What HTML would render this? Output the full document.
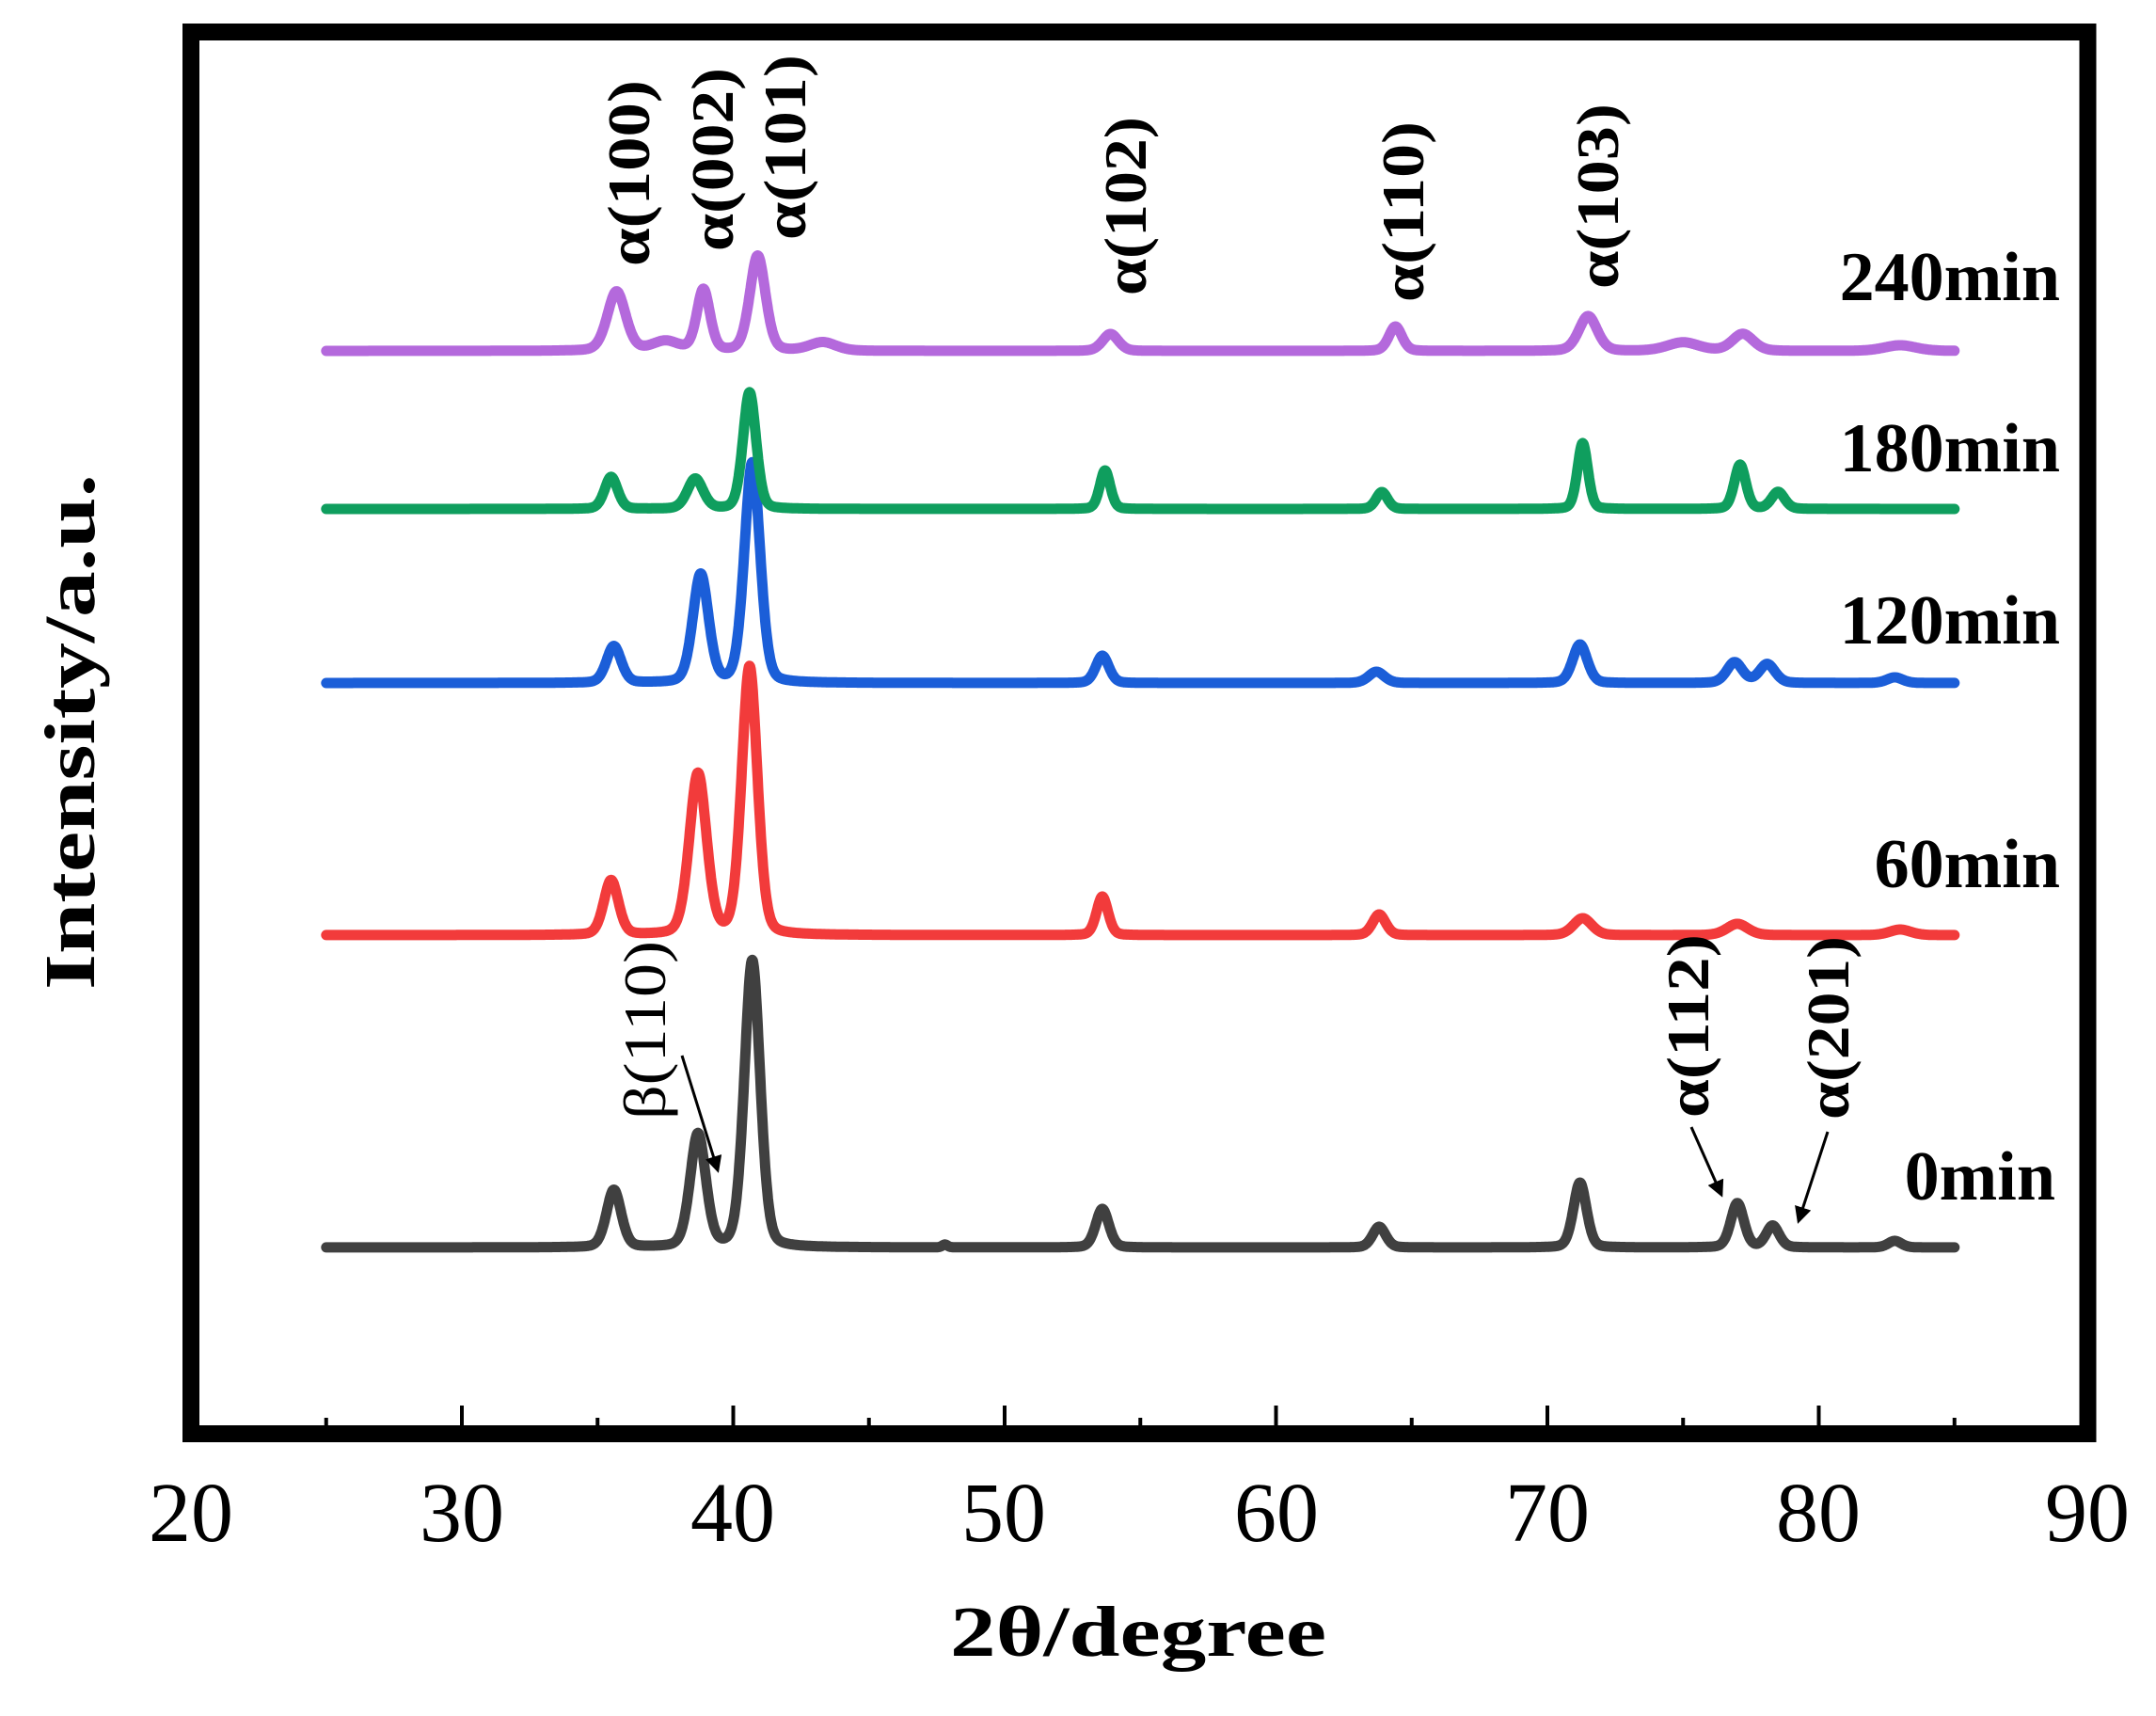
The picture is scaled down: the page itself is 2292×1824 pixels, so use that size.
<!DOCTYPE html>
<html><head><meta charset="utf-8"><style>
html,body{margin:0;padding:0;background:#fff}
svg{display:block}
text{font-family:"Liberation Serif",serif;fill:#000}
.b{font-weight:bold}
</style></head><body>
<svg id="s" width="2292" height="1824" viewBox="0 0 2292 1824" xmlns="http://www.w3.org/2000/svg">
<rect width="2292" height="1824" fill="#fff"/>
<defs><marker id="ah" markerWidth="6" markerHeight="6" refX="5" refY="3" orient="auto" markerUnits="strokeWidth"><path d="M0,0 L6,3 L0,6 z" fill="#000"/></marker></defs>
<g id="curves" fill="none" stroke-width="11" stroke-linejoin="round" stroke-linecap="round"></g>
<rect x="203" y="34" width="2016.5" height="1490" fill="none" stroke="#000" stroke-width="18"/>
<g id="ticks" stroke="#000" stroke-width="4"></g>
<g font-size="90" text-anchor="middle">
<text x="203" y="1638">20</text><text x="491" y="1638">30</text><text x="779" y="1638">40</text><text x="1067" y="1638">50</text><text x="1357" y="1638">60</text><text x="1645" y="1638">70</text><text x="1933" y="1638">80</text><text x="2219" y="1638">90</text>
</g>
<text class="b" x="1210" y="1760" font-size="76" text-anchor="middle" textLength="400" lengthAdjust="spacingAndGlyphs">2θ/degree</text>
<text class="b" transform="translate(100,778) rotate(-90)" font-size="76" text-anchor="middle" textLength="548" lengthAdjust="spacingAndGlyphs">Intensity/a.u.</text>
<g class="b" font-size="74" text-anchor="end">
<text x="2190" y="319">240min</text><text x="2190" y="501">180min</text><text x="2190" y="684">120min</text><text x="2190" y="943">60min</text><text x="2185" y="1275">0min</text>
</g>
<g class="b" font-size="64">
<text transform="translate(690,283) rotate(-90)" textLength="198" lengthAdjust="spacingAndGlyphs">α(100)</text>
<text transform="translate(779,267) rotate(-90)" textLength="195" lengthAdjust="spacingAndGlyphs">α(002)</text>
<text transform="translate(856,255) rotate(-90)" textLength="197" lengthAdjust="spacingAndGlyphs">α(101)</text>
<text transform="translate(1218,314) rotate(-90)" textLength="190" lengthAdjust="spacingAndGlyphs">α(102)</text>
<text transform="translate(1513,321) rotate(-90)" textLength="192" lengthAdjust="spacingAndGlyphs">α(110)</text>
<text transform="translate(1720,307) rotate(-90)" textLength="197" lengthAdjust="spacingAndGlyphs">α(103)</text>
<text transform="translate(1816,1188) rotate(-90)" textLength="195" lengthAdjust="spacingAndGlyphs">α(112)</text>
<text transform="translate(1965,1190) rotate(-90)" textLength="195" lengthAdjust="spacingAndGlyphs">α(201)</text>
</g>
<text transform="translate(707,1190) rotate(-90)" font-size="64" textLength="190" lengthAdjust="spacingAndGlyphs">β(110)</text>
<g stroke="#000" stroke-width="3" marker-end="url(#ah)">
<line x1="725" y1="1122" x2="763" y2="1244"/>
<line x1="1798" y1="1198" x2="1830" y2="1270"/>
<line x1="1943" y1="1203" x2="1912" y2="1298"/>
</g>
</svg>
<script>
var X=function(x){return 202.5+(x-20)*28.85;};
var series=[
["#404040",1326,[[35.6,61,.28],[38.7,120,.3],[40.7,305,.3],[53.6,41,.25],[63.8,22,.25],[71.2,69,.25],[77,47,.25],[78.3,23,.25],[82.8,7,.25],[47.8,3,.1]]],
["#f23b3b",994,[[35.5,58,.28],[38.7,171,.33],[40.6,285,.3],[53.6,41,.22],[63.8,22,.25],[71.3,18,.35],[77,12,.4],[83,6,.4]]],
["#1b5ed8",726,[[35.6,39,.28],[38.8,115,.3],[40.7,234,.3],[53.6,29,.25],[63.7,12,.3],[71.2,41,.28],[76.9,22,.3],[78.1,20,.3],[82.8,6,.3]]],
["#0f9e5e",541,[[35.5,34,.25],[38.6,32,.3],[40.6,124,.25],[53.7,41,.2],[63.9,18,.22],[71.3,70,.2],[77.1,47,.22],[78.5,18,.25]]],
["#b469dc",373,[[35.7,63,.35],[37.5,10,.5],[38.9,65,.25],[40.9,101,.3],[43.3,9,.5],[53.9,18,.3],[64.4,26,.25],[71.5,37,.35],[75,9,.6],[77.2,18,.4],[83,6,.6]]]
];
var g=document.getElementById('curves'),ns="http://www.w3.org/2000/svg";
series.forEach(function(s){var d="";for(var x=25;x<=85.0001;x+=0.02){var y=s[1];s[2].forEach(function(p){var t=(x-p[0])/p[2];y-=p[1]*(0.75*Math.exp(-0.5*t*t)+0.25/(1+t*t));});d+=(d?"L":"M")+X(x).toFixed(1)+","+y.toFixed(1);}
var p=document.createElementNS(ns,"path");p.setAttribute("d",d);p.setAttribute("stroke",s[0]);g.appendChild(p);});
var t=document.getElementById('ticks');
for(var v=25;v<=85;v+=5){var l=document.createElementNS(ns,"line");var x=X(v);l.setAttribute("x1",x);l.setAttribute("x2",x);l.setAttribute("y1",1515);l.setAttribute("y2",v%10==0?1494:1507);t.appendChild(l);}
</script>
</body></html>
